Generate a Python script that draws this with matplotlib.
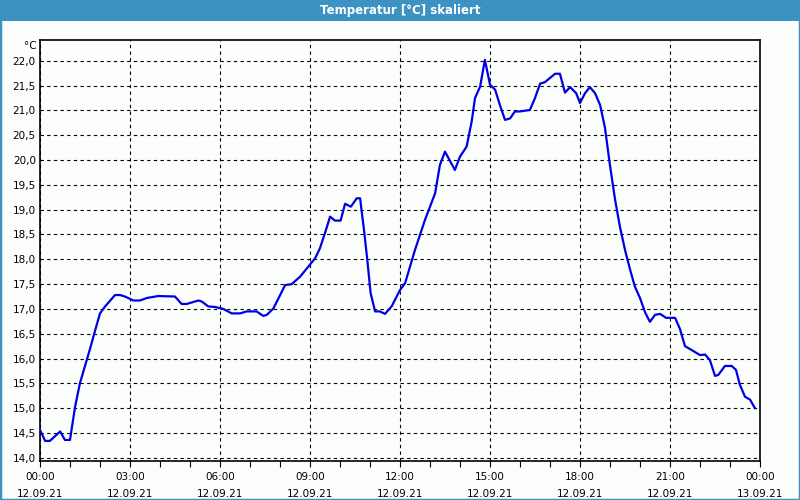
import matplotlib.pyplot as plt
from matplotlib.patches import Rectangle

# Messzeit in Stunden ab 12.09.21 00:00
hours = [0, 0.17, 0.33, 0.67, 0.83, 1.0, 1.17, 1.33, 1.5, 1.67, 1.83, 2.0, 2.17, 2.5, 2.67, 2.83,
         3.11, 3.33, 3.56, 3.94, 4.5, 4.72, 4.89, 5.28, 5.39, 5.61, 5.83, 6.11, 6.39, 6.67,
         6.89, 7.22, 7.44, 7.56, 7.78, 8.17, 8.39, 8.67, 8.94, 9.17, 9.33, 9.5, 9.67, 9.83,
         10.02, 10.17, 10.36, 10.56, 10.67, 10.8, 10.91, 11.02, 11.17, 11.33, 11.5, 11.72,
         12.0, 12.17, 12.5, 12.83, 13.17, 13.33, 13.5, 13.83, 14.0, 14.22, 14.39, 14.5,
         14.67, 14.83, 15.0, 15.17, 15.33, 15.5, 15.67, 15.83, 16.0, 16.33, 16.5, 16.67,
         16.83, 17.17, 17.33, 17.5, 17.67, 17.87, 18.0, 18.17, 18.33, 18.5, 18.67, 18.83,
         19.0, 19.17, 19.33, 19.5, 19.67, 19.83, 20.0, 20.17, 20.33, 20.5, 20.67, 20.87,
         21.17, 21.33, 21.5, 21.67, 22.0, 22.17, 22.33, 22.5, 22.61, 22.83, 23.06, 23.2,
         23.33, 23.5, 23.67, 23.83]
temps = [14.56, 14.34, 14.34, 14.53, 14.36, 14.36, 15.03, 15.5, 15.85, 16.2, 16.55, 16.91,
         17.05, 17.28, 17.28, 17.25, 17.17, 17.17, 17.22, 17.26, 17.25, 17.10, 17.10, 17.17,
         17.15, 17.05, 17.04, 17.0, 16.91, 16.91, 16.95, 16.95, 16.86, 16.88, 17.01, 17.48,
         17.5, 17.65, 17.85, 18.02, 18.22, 18.53, 18.86, 18.78, 18.78, 19.12, 19.06, 19.23,
         19.23, 18.59, 17.99, 17.32, 16.95, 16.95, 16.90, 17.05, 17.38, 17.52, 18.19, 18.79,
         19.33, 19.90, 20.17, 19.80, 20.07, 20.27, 20.78, 21.25, 21.48, 22.02, 21.52, 21.42,
         21.11, 20.81, 20.84, 20.98, 20.98, 21.01, 21.25, 21.54, 21.57, 21.74, 21.74, 21.36,
         21.47, 21.35, 21.15, 21.35, 21.47, 21.35, 21.11, 20.66, 19.89, 19.20, 18.66, 18.19,
         17.79, 17.45, 17.22, 16.93, 16.74, 16.88, 16.90, 16.82, 16.82, 16.60, 16.25, 16.19,
         16.07, 16.08, 15.97, 15.65, 15.67, 15.85, 15.85, 15.77, 15.47, 15.23, 15.17, 15.0]

xtick_pos = [0, 3, 6, 9, 12, 15, 18, 21, 24]
xtick_labels = ["00:00\n12.09.21", "03:00\n12.09.21", "06:00\n12.09.21", "09:00\n12.09.21",
                "12:00\n12.09.21", "15:00\n12.09.21", "18:00\n12.09.21", "21:00\n12.09.21",
                "00:00\n13.09.21"]
ytick_pos = [14.0, 14.5, 15.0, 15.5, 16.0, 16.5, 17.0, 17.5, 18.0, 18.5, 19.0, 19.5,
             20.0, 20.5, 21.0, 21.5, 22.0]

plt.rcParams['font.family'] = ['DejaVu Sans']

fig = plt.figure(figsize=(8, 5), dpi=100, facecolor='#fcfefc')

# Fensterrahmen und Titelleiste
fig.patches.append(Rectangle((0, 0), 1, 1, transform=fig.transFigure, fill=False,
                             edgecolor='#3d92c4', linewidth=2.5, zorder=0))
fig.patches.append(Rectangle((0, 1 - 21 / 500), 1, 21 / 500, transform=fig.transFigure,
                             facecolor='#3d92c4', edgecolor='none', zorder=1))
fig.text(0.5, 1 - 10.5 / 500, "Temperatur [°C] skaliert", color='white', fontsize=8.5,
         fontweight='bold', ha='center', va='center')

ax = fig.add_axes([40 / 800, 1 - 461 / 500, 720 / 800, 421 / 500])
ax.set_facecolor('#fcfefc')
ax.plot(hours, temps, color='#0000e6', linewidth=1.6, zorder=3)

ax.set_xlim(0, 24)
ax.set_ylim(13.935, 22.42)

ax.set_xticks(xtick_pos)
ax.set_xticklabels(xtick_labels, fontsize=7.5, linespacing=1.9)
ax.set_xticks(range(0, 25), minor=True)
ax.tick_params(axis='x', which='both', direction='out', length=4, width=0.8, pad=4,
               colors='black')
ax.set_yticks(ytick_pos)
ax.set_yticklabels([f"{v:.1f}".replace('.', ',') for v in ytick_pos], fontsize=7.5)
ax.tick_params(axis='y', length=0, pad=3)

ax.grid(True, which='major', color='black', linestyle=(0, (3, 3)), linewidth=0.8)
for s in ax.spines.values():
    s.set_linewidth(1.2)
    s.set_color('black')

fig.text(37 / 800, 1 - 46 / 500, "°C", fontsize=7.5, ha='right', va='center')

fig.savefig('out.png', dpi=100, facecolor=fig.get_facecolor())
